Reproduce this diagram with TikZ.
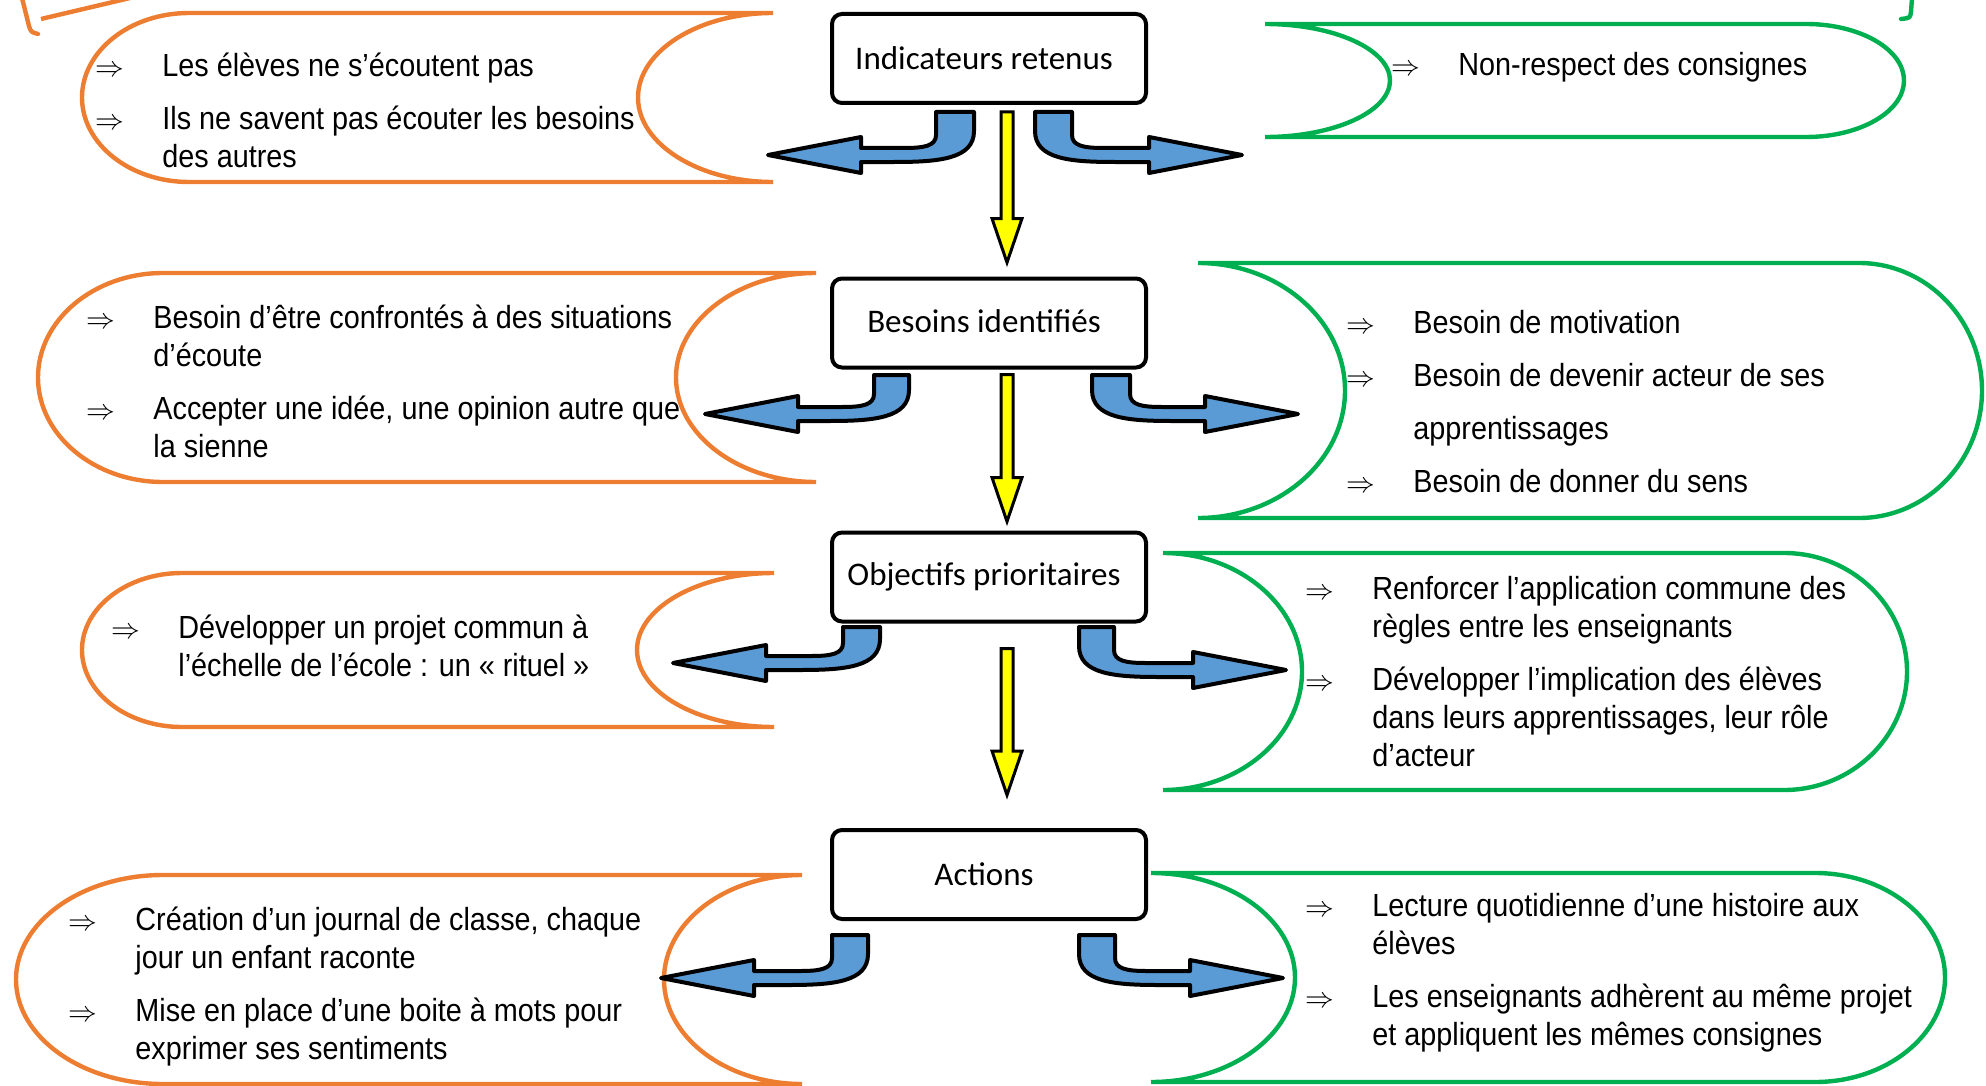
\documentclass[tikz,border=0pt]{standalone}
\usepackage{fontspec}
\setmainfont{Liberation Sans}[FakeStretch=0.9]
\newfontfamily\titrefont{Carlito}
\usetikzlibrary{calc}

\definecolor{orangeO}{HTML}{ED7D31}
\definecolor{vertV}{HTML}{00B050}
\definecolor{bleuF}{HTML}{5B9BD5}
\definecolor{jauneF}{HTML}{FFFF00}

\tikzset{
  titre/.style={draw, rounded corners=5pt, line width=2pt, inner sep=0pt,
    minimum width=157pt, minimum height=44.5pt,
    font=\titrefont\fontsize{16.5}{19}\selectfont},
  liste/.style={anchor=base west, inner sep=0pt, font=\fontsize{16}{19}\selectfont},
  cadreG/.style={draw=orangeO, line width=2.2pt},
  cadreD/.style={draw=vertV, line width=2.2pt},
  bleu/.style={fill=bleuF, draw=black, line width=2pt, line join=round},
  jaune/.style={fill=jauneF, draw=black, line width=1.5pt, line join=miter}
}

\newcommand{\fl}{{\fontsize{14}{14}\selectfont$\Rightarrow$}}

% bandeau orange : haut, bas, gauche, bosse gauche, droite, creux droit
\newcommand{\rouleauG}[6]{%
  \pgfmathsetmacro{\ym}{(#1+#2)/2}\pgfmathsetmacro{\yk}{0.276*(#2-#1)}%
  \draw[cadreG] ({#3+#4},#1) -- (#5,#1)
    .. controls ({#5-0.55*#6},#1) and ({#5-#6},\ym-\yk) .. ({#5-#6},\ym)
    .. controls ({#5-#6},\ym+\yk) and ({#5-0.55*#6},#2) .. (#5,#2)
    -- ({#3+#4},#2)
    .. controls ({#3+0.45*#4},#2) and (#3,\ym+\yk) .. (#3,\ym)
    .. controls (#3,\ym-\yk) and ({#3+0.45*#4},#1) .. ({#3+#4},#1) -- cycle;}

% bandeau vert : haut, bas, gauche, creux gauche, droite, bosse droite
\newcommand{\rouleauD}[6]{%
  \pgfmathsetmacro{\ym}{(#1+#2)/2}\pgfmathsetmacro{\yk}{0.276*(#2-#1)}%
  \draw[cadreD] (#3,#1) -- ({#5-#6},#1)
    .. controls ({#5-0.45*#6},#1) and (#5,\ym-\yk) .. (#5,\ym)
    .. controls (#5,\ym+\yk) and ({#5-0.45*#6},#2) .. ({#5-#6},#2)
    -- (#3,#2)
    .. controls ({#3+0.55*#4},#2) and ({#3+#4},\ym+\yk) .. ({#3+#4},\ym)
    .. controls ({#3+#4},\ym-\yk) and ({#3+0.55*#4},#1) .. (#3,#1) -- cycle;}

% fleches bleues : bord gauche, bord droit, haut, axe, pointe
\newcommand{\flecheG}[5]{%
  \draw[bleu] (#1,#3) -- (#1,#4-20) .. controls (#1,#4-9) and (#1-12,#4-7) .. (#1-32,#4-7)
    -- ({#5+93},#4-7) -- ({#5+93},#4-18) -- (#5,#4) -- ({#5+93},#4+18)
    -- ({#5+93},#4+7) -- (#2-80,#4+7) .. controls (#2-35,#4+7) and (#2,#4+4) .. (#2,#4-24)
    -- (#2,#3) -- cycle;}
\newcommand{\flecheD}[5]{%
  \draw[bleu] (#2,#3) -- (#2,#4-20) .. controls (#2,#4-9) and (#2+12,#4-7) .. (#2+32,#4-7)
    -- ({#5-93},#4-7) -- ({#5-93},#4-18) -- (#5,#4) -- ({#5-93},#4+18)
    -- ({#5-93},#4+7) -- (#1+80,#4+7) .. controls (#1+35,#4+7) and (#1,#4+4) .. (#1,#4-24)
    -- (#1,#3) -- cycle;}

% fleche jaune d'un cadre au suivant
\newcommand{\flecheJ}[4]{%
  \draw[jaune] let \p1=($(#1.south)+(18,#2)$), \p2=($(#3.north)+(18,-#4)$) in
    (\x1-3pt,\y1) -- (\x1-3pt,\y2+22pt) -- (\x1-7.5pt,\y2+22pt) -- (\x1,\y2)
    -- (\x1+7.5pt,\y2+22pt) -- (\x1+3pt,\y2+22pt) -- (\x1+3pt,\y1) -- cycle;}

\begin{document}
\begin{tikzpicture}[x=0.5pt, y=-0.5pt]
  \useasboundingbox (0,0) rectangle (1986,1086);

  % morceaux coupes en haut
  \draw[cadreG, line cap=round] (22,-2) -- (29,26) .. controls (31,32) .. (38,34);
  \draw[cadreG] (41,19) -- (130,-2);
  \draw[cadreD, line cap=round] (1912,-2) -- (1911,12) .. controls (1910,18) .. (1901,19);

  % bandeaux
  \rouleauG{13}{182}{82}{107}{773}{135}
  \rouleauG{273}{482}{38}{125}{816}{140}
  \rouleauG{573}{727}{82}{100}{774}{137}
  \rouleauG{875}{1084}{16}{147}{802}{138}
  \rouleauD{24}{137}{1265}{125}{1904}{98}
  \rouleauD{263}{518}{1198}{147}{1982}{123}
  \rouleauD{553}{790}{1163}{139}{1907}{123}
  \rouleauD{873}{1082}{1151}{144}{1945}{130}

  % cadres centraux
  \node[titre] (ind) at (989,58.5) {Indicateurs retenus\hspace*{5pt}};
  \node[titre] (bes) at (989,323) {\raisebox{2pt}{Besoins identifiés}\hspace*{5pt}};
  \node[titre] (obj) at (989,577) {Objectifs prioritaires\hspace*{5pt}};
  \node[titre] (act) at (989,874.5) {Actions\hspace*{5pt}};

  % listes
  \node[liste] (indG) at (95,77) {\begin{tabular}[t]{@{}p{33.5pt}@{}l@{}}
    \fl & Les élèves ne s’écoutent pas\\[7.5pt]
    \fl & Ils ne savent pas écouter les besoins\\
        & des autres
  \end{tabular}};
  \node[liste] (indD) at (1391,76) {\begin{tabular}[t]{@{}p{33.5pt}@{}l@{}}
    \fl & Non-respect des consignes
  \end{tabular}};
  \node[liste] (besG) at (86,328) {\begin{tabular}[t]{@{}p{33.5pt}@{}l@{}}
    \fl & Besoin d’être confrontés à des situations\\
        & d’écoute\\[7.5pt]
    \fl & Accepter une idée, une opinion autre que\\
        & la sienne
  \end{tabular}};
  \node[liste] (besD) at (1346,333) {\begin{tabular}[t]{@{}p{33.5pt}@{}l@{}}
    \fl & Besoin de motivation\\[7.5pt]
    \fl & Besoin de devenir acteur de ses\\[7.5pt]
        & apprentissages\\[7.5pt]
    \fl & Besoin de donner du sens
  \end{tabular}};
  \node[liste] (objG) at (111,638) {\begin{tabular}[t]{@{}p{33.5pt}@{}l@{}}
    \fl & Développer un projet commun à\\
        & l’échelle de l’école : un « rituel »
  \end{tabular}};
  \node[liste] (objD) at (1305,599) {\begin{tabular}[t]{@{}p{33.5pt}@{}l@{}}
    \fl & Renforcer l’application commune des\\
        & règles entre les enseignants\\[7.5pt]
    \fl & Développer l’implication des élèves\\
        & dans leurs apprentissages, leur rôle\\
        & d’acteur
  \end{tabular}};
  \node[liste] (actG) at (68,930) {\begin{tabular}[t]{@{}p{33.5pt}@{}l@{}}
    \fl & Création d’un journal de classe, chaque\\
        & jour un enfant raconte\\[7.5pt]
    \fl & Mise en place d’une boite à mots pour\\
        & exprimer ses sentiments
  \end{tabular}};
  \node[liste] (actD) at (1305,916) {\begin{tabular}[t]{@{}p{33.5pt}@{}l@{}}
    \fl & Lecture quotidienne d’une histoire aux\\
        & élèves\\[7.5pt]
    \fl & Les enseignants adhèrent au même projet\\
        & et appliquent les mêmes consignes
  \end{tabular}};

  % fleches bleues
  \flecheG{936}{974}{112}{155}{768}
  \flecheD{1035}{1072}{112}{155}{1242}
  \flecheG{874}{909}{375}{414}{705}
  \flecheD{1092}{1130}{375}{414}{1298}
  \flecheG{843}{880}{627}{663}{673}
  \flecheD{1079}{1114}{627}{670}{1286}
  \flecheG{832}{868}{935}{978}{661}
  \flecheD{1079}{1115}{935}{978}{1283}

  % fleches jaunes
  \flecheJ{ind}{7}{bes}{14}
  \flecheJ{bes}{5}{obj}{9}
  \flecheJ{obj}{25}{act}{33}
\end{tikzpicture}
\end{document}
